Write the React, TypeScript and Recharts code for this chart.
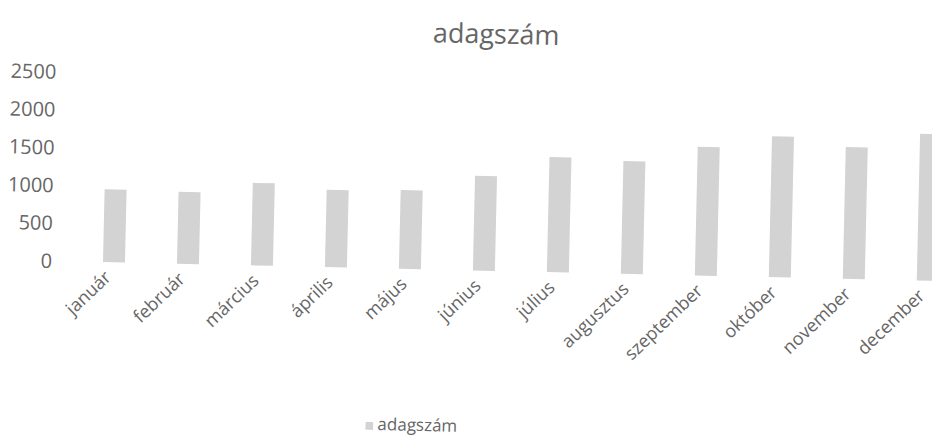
import React from "react";
import { BarChart, Bar, XAxis, YAxis, Legend } from "recharts";

const months = [
  "január",
  "február",
  "március",
  "április",
  "május",
  "június",
  "július",
  "augusztus",
  "szeptember",
  "október",
  "november",
  "december",
];

const adagszam = [960, 950, 1090, 1020, 1040, 1250, 1520, 1490, 1700, 1860, 1740, 1940];

const yTicks = [0, 500, 1000, 1500, 2000, 2500];

const data = months.map((m, i) => ({ name: m, adagszám: adagszam[i] }));

const FONT = "'Open Sans', 'Noto Sans', sans-serif";
const TEXT = "#666666";
const BAR = "#d3d3d3";

function MonthTick(props: any) {
  const { x, y, payload } = props;
  return (
    <g transform={`translate(${x - 6},${y + 4})`}>
      <text
        x={0}
        y={0}
        dy="0.35em"
        textAnchor="end"
        transform="rotate(-45)"
        fill={TEXT}
        fontSize={18}
        fontFamily={FONT}
      >
        {payload.value}
      </text>
    </g>
  );
}

function LegendText(value: string) {
  return (
    <span style={{ color: TEXT, fontSize: 17, fontFamily: FONT, lineHeight: "20px" }}>
      {value}
    </span>
  );
}

export default function App() {
  return (
    <div
      style={{
        position: "fixed",
        left: 0,
        top: 0,
        width: 932,
        height: 436,
        overflow: "hidden",
        background: "#fff",
      }}
    >
      <div
        style={{
          position: "absolute",
          left: 0,
          top: 0,
          width: 965,
          height: 436,
          transform: "rotate(1.3deg)",
          transformOrigin: "115px 261px",
        }}
      >
        <div
          style={{
            position: "absolute",
            left: 391,
            top: 6,
            width: 200,
            textAlign: "center",
            fontFamily: FONT,
            fontSize: 27,
            color: TEXT,
            lineHeight: "38px",
          }}
        >
          adagszám
        </div>
        <BarChart
          width={965}
          height={436}
          data={data}
          margin={{ top: 73, right: 0, bottom: 0, left: 0 }}
          barSize={22}
        >
          <YAxis
            width={77}
            domain={[0, 2500]}
            ticks={yTicks}
            axisLine={false}
            tickLine={false}
            tickMargin={19}
            tick={{ fill: TEXT, fontSize: 20, fontFamily: FONT }}
          />
          <XAxis
            dataKey="name"
            height={150}
            axisLine={false}
            tickLine={false}
            interval={0}
            tick={<MonthTick />}
          />
          <Legend
            verticalAlign="bottom"
            iconType="square"
            iconSize={8}
            wrapperStyle={{ left: 360, top: 408, width: 120, bottom: "auto", lineHeight: "20px" }}
            formatter={LegendText}
          />
          <Bar dataKey="adagszám" fill={BAR} isAnimationActive={false} />
        </BarChart>
      </div>
    </div>
  );
}
